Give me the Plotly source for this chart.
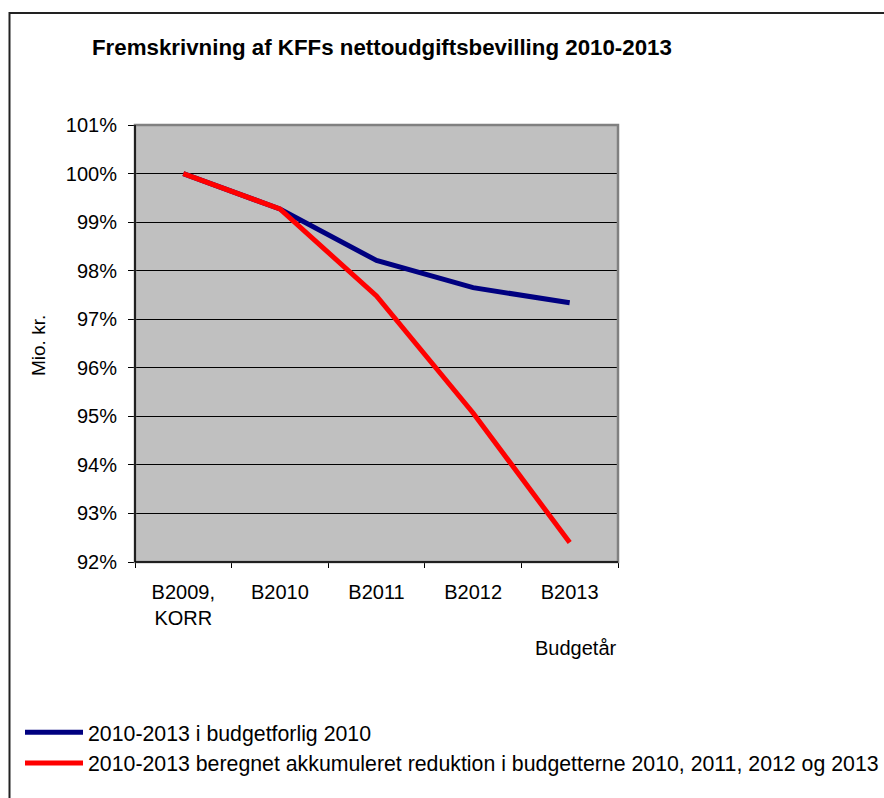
import plotly.graph_objects as go

categories = ["B2009,<br>KORR", "B2010", "B2011", "B2012", "B2013"]
blue_name = "2010-2013 i budgetforlig 2010"
blue_values = [100.0, 99.27, 98.21, 97.65, 97.34]
red_name = "2010-2013 beregnet akkumuleret reduktion i budgetterne 2010, 2011, 2012 og 2013"
red_values = [100.0, 99.27, 97.48, 95.07, 92.40]
y_ticks = list(range(92, 102))

W, H = 884, 798
L, R, T, B = 135, 266, 125, 236
pw, ph = W - L - R, H - T - B

# helpers converting page pixel positions into paper coordinates
def px(x):
    return (x - L) / pw

def py(y):
    return (H - B - y) / ph

FONT = "Liberation Sans, Arial, sans-serif"

fig = go.Figure()
fig.add_trace(go.Scatter(x=categories, y=blue_values, mode="lines", name=blue_name,
                         line=dict(color="#000080", width=5)))
fig.add_trace(go.Scatter(x=categories, y=red_values, mode="lines", name=red_name,
                         line=dict(color="#FF0000", width=5)))

fig.update_layout(
    width=W, height=H,
    margin=dict(l=L, r=R, t=T, b=B, autoexpand=False),
    paper_bgcolor="white",
    plot_bgcolor="#C0C0C0",
    font=dict(family=FONT, size=20, color="black"),
    title=dict(text="<b>Fremskrivning af KFFs nettoudgiftsbevilling 2010-2013</b>",
               x=92 / W, xanchor="left", xref="container",
               y=1 - 47 / H, yanchor="middle", yref="container",
               font=dict(family=FONT, size=22.3, color="black")),
    showlegend=True,
    legend=dict(x=px(20), xanchor="left", y=py(712), yanchor="top",
                font=dict(family=FONT, size=21.3, color="black"),
                bgcolor="rgba(0,0,0,0)", traceorder="normal",
                itemwidth=58),
)

fig.update_xaxes(
    type="category", range=[-0.5, 4.5],
    showgrid=False, showline=True, linecolor="black", linewidth=1,
    ticks="outside", tickson="boundaries", ticklen=5, tickcolor="black",
    ticklabelstandoff=12,
    tickfont=dict(family=FONT, size=20, color="black"),
    zeroline=False,
)
fig.update_yaxes(
    range=[92, 101], tickvals=y_ticks, ticktext=[f"{v}%" for v in y_ticks],
    showgrid=True, gridcolor="black", gridwidth=1,
    showline=True, linecolor="black", linewidth=1,
    ticks="outside", ticklen=6, tickcolor="black",
    ticklabelstandoff=7,
    tickfont=dict(family=FONT, size=20, color="black"),
    zeroline=False,
)

# plot area border (gray top/right)
fig.add_shape(type="rect", xref="paper", yref="paper", x0=0, x1=1, y0=0, y1=1,
              line=dict(color="#808080", width=2.5), layer="above")
fig.add_shape(type="line", xref="paper", yref="paper", x0=0, x1=0, y0=0, y1=1,
              line=dict(color="black", width=1.5), layer="above")
fig.add_shape(type="line", xref="paper", yref="paper", x0=0, x1=1, y0=0, y1=0,
              line=dict(color="black", width=1.5), layer="above")
# outer chart frame
fig.add_shape(type="rect", xref="paper", yref="paper",
              x0=px(9.5), x1=px(900), y0=py(820), y1=py(13),
              line=dict(color="#222222", width=2), layer="above")

fig.add_annotation(text="Mio. kr.", xref="paper", yref="paper", x=px(38), y=py(346),
                   textangle=-90, showarrow=False, xanchor="center", yanchor="middle",
                   font=dict(family=FONT, size=19, color="black"))
fig.add_annotation(text="Budgetår", xref="paper", yref="paper", x=px(619), y=py(648),
                   showarrow=False, xanchor="right", yanchor="middle",
                   font=dict(family=FONT, size=20, color="black"))

fig.write_html("out.html",
               config={"displayModeBar": False},
               post_script="document.body.style.margin='0';document.body.style.overflow='hidden';")
